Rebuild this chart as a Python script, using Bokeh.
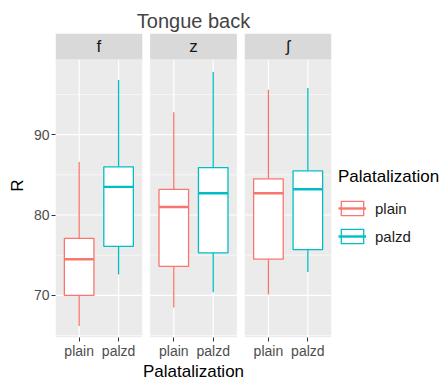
from bokeh.plotting import figure
from bokeh.models import ColumnDataSource, FactorRange, Range1d, FixedTicker, Legend, LegendItem
from bokeh.layouts import row
from bokeh.transform import dodge
from bokeh.core.properties import value
from bokeh.embed import file_html
from bokeh.resources import INLINE

# ---------------- data ----------------
chart_title = "Tongue back"
x_title = "Palatalization"
y_title = "R"
facets = ["f", "z", "ʃ"]
groups = ["plain", "palzd"]
facet_col = ["f", "f", "z", "z", "ʃ", "ʃ"]
group_col = ["plain", "palzd", "plain", "palzd", "plain", "palzd"]
lower = [66.2, 72.6, 68.5, 70.4, 70.1, 72.9]
q1 = [70.0, 76.1, 73.6, 75.3, 74.5, 75.7]
median = [74.5, 83.5, 81.0, 82.7, 82.7, 83.2]
q3 = [77.1, 86.0, 83.2, 85.9, 84.5, 85.5]
upper = [86.6, 96.8, 92.8, 97.8, 95.6, 95.8]
y_ticks = [70, 80, 90]
y_minor = [65, 75, 85, 95]

# ---------------- style ----------------
FONT_NAME = "Liberation Sans"
FONT = value(FONT_NAME)
COLORS = {"plain": "#F8766D", "palzd": "#00BFC4"}
Y_MIN, Y_MAX = 64.76, 99.35
STRIP_PX = 26
H = 386
MB_TOP, MB_BOTTOM, MB_LEFT, MB_RIGHT = 33, 49, 55, 4
FRAME_W = 276
LEG_W = 107
PANEL_W = 2.2          # factor units per facet panel
frame_h = H - MB_TOP - MB_BOTTOM
data_px = frame_h - STRIP_PX
STRIP_TOP = Y_MAX + STRIP_PX * (Y_MAX - Y_MIN) / data_px

factors = [(f, g) for f, g in zip(facet_col, group_col)]
src = ColumnDataSource(dict(
    x=factors, lower=lower, q1=q1, med=median, q3=q3, upper=upper,
    color=[COLORS[g] for g in group_col],
))

xr = FactorRange(factors=factors, range_padding=0.1, range_padding_units="absolute",
                 group_padding=0.4)
yr = Range1d(Y_MIN, STRIP_TOP)
p = figure(x_range=xr, y_range=yr, width=MB_LEFT + FRAME_W + MB_RIGHT, height=H,
           output_backend="svg", toolbar_location=None,
           min_border_top=MB_TOP, min_border_bottom=MB_BOTTOM,
           min_border_left=MB_LEFT, min_border_right=MB_RIGHT)
p.background_fill_color = "white"
p.border_fill_color = "white"
p.outline_line_color = None
p.xgrid.visible = False
p.ygrid.visible = False

# title
p.title.text = chart_title
p.title.align = "center"
p.title.text_font = FONT_NAME
p.title.text_font_size = "20px"
p.title.text_font_style = "normal"
p.title.standoff = 4

# axes
p.yaxis.ticker = FixedTicker(ticks=y_ticks, minor_ticks=y_minor)
for ax in (p.xaxis, p.yaxis):
    ax.axis_line_color = None
    ax.major_tick_line_color = "#333333"
    ax.major_tick_out = 4
    ax.major_tick_in = 0
    ax.minor_tick_line_color = None
    ax.major_label_text_font = FONT_NAME
    ax.major_label_text_font_size = "14px"
    ax.major_label_text_color = "#4D4D4D"
    ax.major_label_standoff = 2
    ax.axis_label_text_font = FONT_NAME
    ax.axis_label_text_font_size = "17px"
    ax.axis_label_text_font_style = "normal"
    ax.axis_label_text_color = "#000000"
    ax.axis_label_standoff = 0
p.yaxis.axis_label = y_title
p.yaxis.axis_label_standoff = 4
p.xaxis.axis_label = x_title
p.xaxis.major_label_standoff = 1
p.xaxis.group_text_font_size = "1px"
p.xaxis.group_text_color = None
p.xaxis.separator_line_color = None

# panel backgrounds and grid
p.rect(x=facets, y=(Y_MIN + Y_MAX) / 2, width=PANEL_W, height=Y_MAX - Y_MIN,
       fill_color="#EBEBEB", line_color=None)
minor_src = ColumnDataSource(dict(fx=[f for f in facets for _ in y_minor],
                                  y=[t for _ in facets for t in y_minor]))
major_src = ColumnDataSource(dict(fx=[f for f in facets for _ in y_ticks],
                                  y=[t for _ in facets for t in y_ticks]))
half = PANEL_W / 2
p.segment(x0=dodge("fx", -half, range=xr), x1=dodge("fx", half, range=xr), y0="y", y1="y",
          source=minor_src, line_color="white", line_width=0.6)
p.segment(x0=dodge("fx", -half, range=xr), x1=dodge("fx", half, range=xr), y0="y", y1="y",
          source=major_src, line_color="white", line_width=1.2)
p.segment(x0="x", x1="x", y0=Y_MIN, y1=Y_MAX, source=src, line_color="white", line_width=1.2)


def draw_boxes(fig):
    fig.segment(x0="x", y0="q3", x1="x", y1="upper", source=src, line_color="color", line_width=1.3)
    fig.segment(x0="x", y0="lower", x1="x", y1="q1", source=src, line_color="color", line_width=1.3)
    b = fig.vbar(x="x", width=0.75, bottom="q1", top="q3", source=src,
                 fill_color="white", line_color="color", line_width=1.3)
    m = fig.segment(x0=dodge("x", -0.375, range=xr), x1=dodge("x", 0.375, range=xr),
                    y0="med", y1="med", source=src, line_color="color", line_width=2.4)
    return b, m


draw_boxes(p)

# facet strips
strip = ColumnDataSource(dict(x=facets, label=facets))
strip_mid = (Y_MAX + STRIP_TOP) / 2
p.rect(x="x", y=strip_mid, width=PANEL_W, height=STRIP_TOP - Y_MAX, source=strip,
       fill_color="#D9D9D9", line_color=None)
p.text(x="x", y=strip_mid, text="label", source=strip,
       text_align="center", text_baseline="middle", text_font=FONT,
       text_font_size="17px", text_color="#1A1A1A")

# legend: a companion figure; its own boxes are hidden beneath a white cover
pl = figure(x_range=xr, y_range=Range1d(Y_MIN, STRIP_TOP), width=LEG_W, height=H,
            output_backend="svg", toolbar_location=None,
            x_axis_location=None, y_axis_location=None, min_border=0)
pl.outline_line_color = None
pl.background_fill_color = "white"
pl.border_fill_color = "white"
pl.xgrid.visible = False
pl.ygrid.visible = False
box, med = draw_boxes(pl)
pl.rect(x=[facets[1]], y=[(Y_MIN + STRIP_TOP) / 2], width=100, height=200,
        fill_color="white", line_color=None)
items = [LegendItem(label=g, renderers=[box, med], index=i) for i, g in enumerate(groups)]
leg = Legend(items=items, title=x_title, location=(3, 92),
             glyph_width=28, glyph_height=18, label_height=18, spacing=10,
             padding=0, margin=0, border_line_color=None,
             background_fill_alpha=0, title_standoff=12, label_standoff=9,
             label_text_font=FONT_NAME, label_text_font_size="15px",
             label_text_color="#1A1A1A",
             title_text_font=FONT_NAME, title_text_font_size="17px",
             title_text_font_style="normal", title_text_color="#000000")
pl.add_layout(leg, "center")

layout = row(p, pl, spacing=0)
open("out.html", "w").write(file_html(layout, INLINE))
